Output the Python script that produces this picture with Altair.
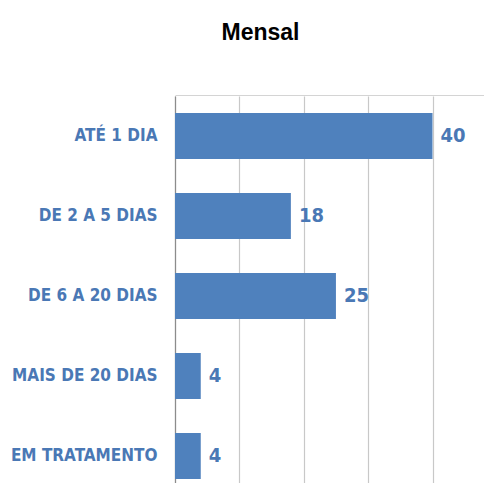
import altair as alt
import pandas as pd

categories = ["ATÉ 1 DIA", "DE 2 A 5 DIAS", "DE 6 A 20 DIAS", "MAIS DE 20 DIAS", "EM TRATAMENTO"]
values = [40, 18, 25, 4, 4]
grid_ticks = [0, 10, 20, 30, 40]

df = pd.DataFrame({"cat": categories, "val": values})

BAR = "#4f81bd"
LBL = "#4a78b5"
FONT = "DejaVu Sans Condensed, Roboto, sans-serif"

y_enc = alt.Y("cat:N", sort=categories, title=None,
              scale=alt.Scale(range=[1, 401], paddingInner=0.425, paddingOuter=0.2125),
              axis=alt.Axis(labelFont=FONT, labelFontWeight="bold", labelFontSize=17,
                            labelColor=LBL, labelPadding=18, ticks=False,
                            domainColor="#8c8c8c", domainWidth=1.2))
x_enc = alt.X("val:Q", title=None,
              scale=alt.Scale(domain=[0, 48], nice=False),
              axis=alt.Axis(orient="top", values=grid_ticks, labels=False, ticks=False,
                            grid=True, gridColor="#c8c8c8", gridWidth=1.2,
                            domainColor="#d4d4d4", domainWidth=1.2))

bars = alt.Chart(df).mark_bar(color=BAR).encode(y=y_enc, x=x_enc)
text = alt.Chart(df).mark_text(align="left", baseline="middle", dx=8, font=FONT,
                               fontWeight="bold", fontSize=20, color=LBL).encode(
    y=alt.Y("cat:N", sort=categories), x=alt.X("val:Q"), text="val:Q")

chart = (bars + text).properties(
    width=309, height=388,
    autosize=alt.AutoSizeParams(type="none"),
    padding={"left": 167, "top": 87, "right": 0, "bottom": 0},
    title=alt.TitleParams("Mensal", font="Liberation Sans", fontWeight="bold",
                          fontSize=23, color="#000000", anchor="middle", dx=-69, offset=50),
).configure_view(stroke=None)

chart.save("out.html", embed_options={"renderer": "svg", "actions": False})
